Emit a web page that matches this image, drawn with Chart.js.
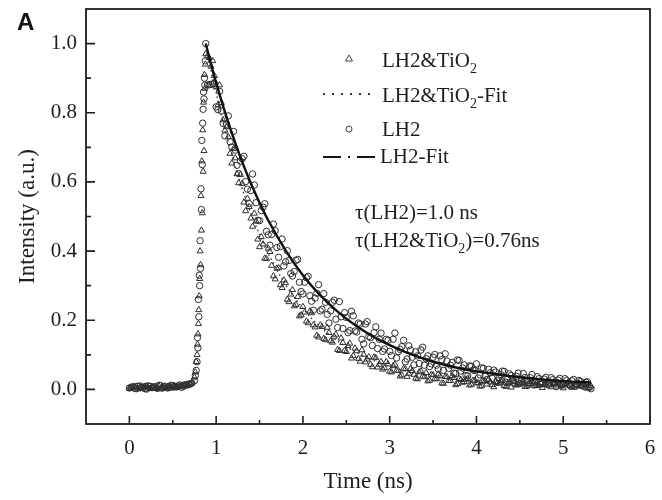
<!DOCTYPE html>
<html>
<head>
<meta charset="utf-8">
<script src="https://cdn.jsdelivr.net/npm/chart.js@4"></script>
<style>
  html, body { margin: 0; padding: 0; background: #fff; }
  canvas { display: block; }
</style>
</head>
<body>
<canvas id="decay-chart" width="662" height="500"></canvas>
<script>
// time channels (ns), shared by both measured curves
// block 1: even channels, block 2: the channels in between
const time = [
  0.00,0.04,0.08,0.12,0.16,0.20,0.24,0.28,0.32,0.36,0.40,0.44,0.48,0.52,0.56,0.60,0.64,0.68,0.72,
  0.75,0.77,0.79,0.80,0.81,0.82,0.83,0.84,0.85,0.86,0.87,0.88,
  0.92,0.96,1.00,1.04,1.08,1.12,1.16,1.20,1.24,1.28,
  1.32,1.36,1.40,1.44,1.48,1.52,1.56,1.60,1.64,1.68,
  1.72,1.76,1.80,1.84,1.88,1.92,1.96,2.00,2.04,2.08,
  2.12,2.16,2.20,2.24,2.28,2.32,2.36,2.40,2.44,2.48,
  2.52,2.56,2.60,2.64,2.68,2.72,2.76,2.80,2.84,2.88,
  2.92,2.96,3.00,3.04,3.08,3.12,3.16,3.20,3.24,3.28,
  3.32,3.36,3.40,3.44,3.48,3.52,3.56,3.60,3.64,3.68,
  3.72,3.76,3.80,3.84,3.88,3.92,3.96,4.00,4.04,4.08,
  4.12,4.16,4.20,4.24,4.28,4.32,4.36,4.40,4.44,4.48,
  4.52,4.56,4.60,4.64,4.68,4.72,4.76,4.80,4.84,4.88,
  4.92,4.96,5.00,5.04,5.08,5.12,5.16,5.20,5.24,5.28,
  5.32,
  // block 2
  0.02,0.06,0.10,0.14,0.18,0.22,0.26,0.30,0.34,0.38,0.42,0.46,0.50,0.54,0.58,0.62,0.66,0.70,
  0.76,0.78,0.785,0.795,0.805,0.815,0.825,0.835,0.845,0.855,0.865,0.875,
  0.90,0.94,0.98,1.02,1.06,1.10,1.14,1.18,1.22,1.26,
  1.30,1.34,1.38,1.42,1.46,1.50,1.54,1.58,1.62,1.66,
  1.70,1.74,1.78,1.82,1.86,1.90,1.94,1.98,2.02,2.06,
  2.10,2.14,2.18,2.22,2.26,2.30,2.34,2.38,2.42,2.46,
  2.50,2.54,2.58,2.62,2.66,2.70,2.74,2.78,2.82,2.86,
  2.90,2.94,2.98,3.02,3.06,3.10,3.14,3.18,3.22,3.26,
  3.30,3.34,3.38,3.42,3.46,3.50,3.54,3.58,3.62,3.66,
  3.70,3.74,3.78,3.82,3.86,3.90,3.94,3.98,4.02,4.06,
  4.10,4.14,4.18,4.22,4.26,4.30,4.34,4.38,4.42,4.46,
  4.50,4.54,4.58,4.62,4.66,4.70,4.74,4.78,4.82,4.86,
  4.90,4.94,4.98,5.02,5.06,5.10,5.14,5.18,5.22,5.26,
  5.30
];

// LH2 (circles)
const lh2 = [
  .004,.008,.002,.010,.005,.001,.009,.006,.003,.011,.007,.004,.012,.008,.010,.006,.013,.015,.018,
  .025,.055,.12,.21,.30,.35,.52,.65,.81,.84,.88,1.00,
  .881,.883,.817,.862,.769,.767,.716,.746,.648,.660,
  .674,.579,.575,.591,.489,.517,.537,.447,.448,.459,
  .382,.435,.369,.373,.328,.373,.310,.276,.323,.271,
  .229,.278,.227,.277,.217,.227,.258,.179,.210,.222,
  .164,.226,.169,.192,.145,.189,.153,.127,.181,.145,
  .110,.145,.110,.145,.091,.116,.142,.088,.114,.071,
  .097,.114,.070,.097,.074,.101,.059,.086,.103,.061,
  .078,.046,.084,.062,.040,.068,.056,.074,.042,.061,
  .029,.048,.056,.025,.043,.052,.031,.040,.018,.047,
  .026,.035,.014,.043,.022,.031,.016,.035,.019,.028,
  .008,.032,.016,.026,.010,.029,.014,.023,.008,.022,
  .002,
  // block 2
  .006,.003,.009,.007,.002,.010,.005,.008,.012,.004,.009,.006,.011,.007,.013,.009,.014,.016,
  .04,.08,.15,.26,.33,.43,.58,.72,.77,.86,.90,.95,
  .880,.882,.885,.809,.805,.733,.791,.701,.692,.624,
  .667,.601,.537,.623,.540,.488,.527,.457,.417,.478,
  .410,.413,.357,.401,.335,.341,.376,.283,.310,.327,
  .255,.264,.303,.232,.252,.192,.252,.203,.254,.176,
  .208,.170,.213,.166,.189,.132,.196,.150,.164,.118,
  .163,.117,.142,.098,.163,.109,.124,.080,.126,.093,
  .109,.075,.122,.089,.066,.093,.070,.097,.055,.082,
  .070,.047,.085,.053,.071,.039,.067,.055,.033,.062,
  .040,.058,.032,.050,.034,.053,.021,.045,.029,.038,
  .017,.046,.025,.034,.013,.037,.021,.030,.014,.034,
  .018,.027,.012,.031,.015,.025,.009,.026,.013,.021,
  .006
];

// LH2&TiO2 (triangles)
const lh2TiO2 = [
  .002,.006,.009,.003,.007,.010,.002,.008,.005,.001,.009,.006,.003,.010,.007,.011,.009,.012,.020,
  .035,.08,.16,.23,.32,.36,.46,.51,.63,.69,.87,.97,
  .959,.950,.874,.880,.779,.759,.682,.696,.623,.621,
  .541,.552,.495,.509,.434,.441,.379,.408,.358,.319,
  .351,.294,.308,.253,.288,.245,.212,.239,.197,.226,
  .186,.156,.186,.147,.179,.140,.153,.115,.148,.112,
  .126,.090,.119,.089,.114,.079,.094,.065,.091,.072,
  .058,.080,.052,.068,.055,.038,.060,.037,.060,.043,
  .030,.053,.036,.024,.043,.031,.044,.018,.037,.025,
  .039,.013,.031,.020,.029,.012,.026,.018,.009,.024,
  .015,.021,.007,.019,.025,.011,.017,.006,.022,.014,
  .019,.008,.016,.023,.010,.013,.005,.018,.012,.020,
  .009,.015,.004,.017,.011,.006,.014,.009,.016,.003,
  .010,
  // block 2
  .004,.008,.001,.006,.009,.004,.007,.002,.010,.006,.003,.008,.011,.005,.009,.012,.010,.015,
  .05,.10,.13,.19,.27,.40,.56,.66,.75,.83,.91,.94,
  .964,.934,.907,.822,.829,.749,.730,.654,.669,.597,
  .595,.516,.528,.471,.486,.412,.420,.378,.398,.328,
  .350,.302,.316,.260,.275,.241,.268,.215,.223,.192,
  .221,.180,.151,.181,.143,.164,.136,.159,.112,.135,
  .109,.133,.097,.111,.081,.101,.087,.072,.093,.064,
  .080,.062,.073,.050,.072,.054,.041,.059,.046,.054,
  .032,.050,.038,.048,.026,.042,.030,.039,.017,.036,
  .025,.034,.016,.028,.022,.031,.014,.026,.019,.010,
  .024,.029,.013,.021,.017,.027,.008,.020,.023,.012,
  .018,.025,.009,.016,.022,.011,.019,.014,.024,.007,
  .017,.020,.010,.015,.021,.006,.013,.018,.009,.012,
  .005
];

// fitted curves
const fitTime  = [0.88,0.95,1.0,1.1,1.2,1.3,1.4,1.5,1.6,1.8,2.0,2.2,2.4,2.6,2.8,3.0,3.25,3.5,3.75,4.0,4.25,4.5,4.75,5.0,5.32];
const fitLH2   = [1.0,.932,.887,.803,.727,.658,.596,.540,.489,.402,.330,.272,.225,.186,.154,.128,.101,.080,.064,.052,.043,.035,.029,.024,.020];
const fitTiO2  = [1.0,.912,.859,.754,.661,.580,.510,.447,.393,.303,.234,.181,.140,.109,.085,.067,.049,.037,.028,.021,.017,.013,.011,.009,.008];

const xTicks = [0, 1, 2, 3, 4, 5, 6];
const xMinor = [0.5, 1.5, 2.5, 3.5, 4.5, 5.5];
const yTicks = [0, 0.2, 0.4, 0.6, 0.8, 1.0];
const yMinor = [0.1, 0.3, 0.5, 0.7, 0.9];

const INK = '#1e1e1e';
const MARK = '#2e2e2e';
const SERIF = '"Liberation Serif", "Times New Roman", serif';

function pairs(xs, ys) {
  return xs.map((x, i) => ({x: x, y: ys[i]}));
}

// text with subscript parts: [[text, isSub], ...]
function richText(ctx, parts, x, y, size) {
  parts.forEach(([txt, sub]) => {
    ctx.font = (sub ? Math.round(size * 0.66) : size) + 'px ' + SERIF;
    ctx.fillText(txt, x, y + (sub ? size * 0.3 : 0));
    x += ctx.measureText(txt).width;
  });
}

const framePlugin = {
  id: 'frame',
  afterDraw(chart) {
    const {ctx, chartArea: a, scales: {x, y}} = chart;
    ctx.save();
    ctx.strokeStyle = INK;
    ctx.lineWidth = 1.8;
    ctx.strokeRect(a.left, a.top, a.right - a.left, a.bottom - a.top);

    // inward ticks
    ctx.lineWidth = 1.6;
    ctx.beginPath();
    xTicks.forEach(v => { const p = x.getPixelForValue(v); ctx.moveTo(p, a.bottom); ctx.lineTo(p, a.bottom - 8); });
    xMinor.forEach(v => { const p = x.getPixelForValue(v); ctx.moveTo(p, a.bottom); ctx.lineTo(p, a.bottom - 4); });
    yTicks.forEach(v => { const p = y.getPixelForValue(v); ctx.moveTo(a.left, p); ctx.lineTo(a.left + 9, p); });
    yMinor.forEach(v => { const p = y.getPixelForValue(v); ctx.moveTo(a.left, p); ctx.lineTo(a.left + 5, p); });
    ctx.stroke();

    // panel letter
    ctx.fillStyle = '#111';
    ctx.font = 'bold 24px "Liberation Sans", Arial, sans-serif';
    ctx.textBaseline = 'alphabetic';
    ctx.fillText('A', 17, 30);

    // legend
    ctx.strokeStyle = '#444';
    ctx.lineWidth = 1;
    ctx.beginPath();
    ctx.moveTo(349, 55); ctx.lineTo(352.5, 61); ctx.lineTo(345.5, 61); ctx.closePath();
    ctx.stroke();
    ctx.beginPath();
    ctx.arc(349, 129, 3, 0, Math.PI * 2);
    ctx.stroke();

    ctx.strokeStyle = '#333';
    ctx.lineWidth = 2;
    ctx.setLineDash([2, 7]);
    ctx.beginPath(); ctx.moveTo(323, 94); ctx.lineTo(373, 94); ctx.stroke();
    ctx.strokeStyle = '#111';
    ctx.lineWidth = 2.2;
    ctx.setLineDash([18, 7, 2, 7]);
    ctx.beginPath(); ctx.moveTo(323, 157); ctx.lineTo(377, 157); ctx.stroke();
    ctx.setLineDash([]);

    ctx.fillStyle = INK;
    richText(ctx, [['LH2&TiO', false], ['2', true]], 382, 67, 21);
    richText(ctx, [['LH2&TiO', false], ['2', true], ['-Fit', false]], 382, 102, 21);
    richText(ctx, [['LH2', false]], 382, 136, 21);
    richText(ctx, [['LH2-Fit', false]], 380, 163, 21);

    // lifetimes
    richText(ctx, [['\u03c4(LH2)=1.0 ns', false]], 355, 219, 21);
    richText(ctx, [['\u03c4(LH2&TiO', false], ['2', true], [')=0.76ns', false]], 355, 247, 21);
    ctx.restore();
  }
};

new Chart(document.querySelector('#decay-chart').getContext('2d'), {
  type: 'scatter',
  data: {
    datasets: [
      {
        label: 'LH2&TiO2',
        data: pairs(time, lh2TiO2),
        pointStyle: 'triangle',
        pointRadius: 3.5,
        borderColor: MARK,
        backgroundColor: 'rgba(0,0,0,0)',
        borderWidth: 1,
        order: 3
      },
      {
        label: 'LH2&TiO2-Fit',
        data: pairs(fitTime, fitTiO2),
        showLine: true,
        cubicInterpolationMode: 'monotone',
        borderDash: [1.5, 3],
        borderWidth: 1.4,
        borderColor: '#333',
        pointRadius: 0,
        order: 4
      },
      {
        label: 'LH2',
        data: pairs(time, lh2),
        pointStyle: 'circle',
        pointRadius: 3.2,
        borderColor: MARK,
        backgroundColor: 'rgba(0,0,0,0)',
        borderWidth: 1,
        order: 2
      },
      {
        label: 'LH2-Fit',
        data: pairs(fitTime, fitLH2),
        showLine: true,
        cubicInterpolationMode: 'monotone',
        borderWidth: 2.4,
        borderColor: '#111',
        pointRadius: 0,
        order: 1
      }
    ]
  },
  options: {
    responsive: false,
    animation: false,
    devicePixelRatio: 1,
    layout: { padding: { left: 0, top: 9, right: 12, bottom: 0 } },
    plugins: { legend: { display: false }, tooltip: { enabled: false } },
    scales: {
      x: {
        type: 'linear',
        min: -0.5,
        max: 6,
        afterBuildTicks: s => { s.ticks = xTicks.map(v => ({value: v})); },
        afterFit: s => { s.height = 76; s.paddingLeft = 0; s.paddingRight = 0; },
        grid: { display: false, drawTicks: false },
        border: { display: false },
        ticks: {
          autoSkip: false,
          padding: 12,
          color: INK,
          font: { family: SERIF, size: 21 },
          callback: v => String(v)
        },
        title: {
          display: true,
          text: 'Time (ns)',
          color: INK,
          font: { family: SERIF, size: 23 },
          padding: { top: 0, bottom: 4 }
        }
      },
      y: {
        type: 'linear',
        min: -0.1,
        max: 1.1,
        afterBuildTicks: s => { s.ticks = yTicks.map(v => ({value: v})); },
        afterFit: s => { s.width = 86; s.paddingTop = 0; s.paddingBottom = 0; },
        grid: { display: false, drawTicks: false },
        border: { display: false },
        ticks: {
          autoSkip: false,
          padding: 9,
          color: INK,
          font: { family: SERIF, size: 21 },
          callback: v => v.toFixed(1)
        },
        title: {
          display: true,
          text: 'Intensity (a.u.)',
          color: INK,
          font: { family: SERIF, size: 23 },
          padding: { top: 14, bottom: 0 }
        }
      }
    }
  },
  plugins: [framePlugin]
});
</script>
</body>
</html>
